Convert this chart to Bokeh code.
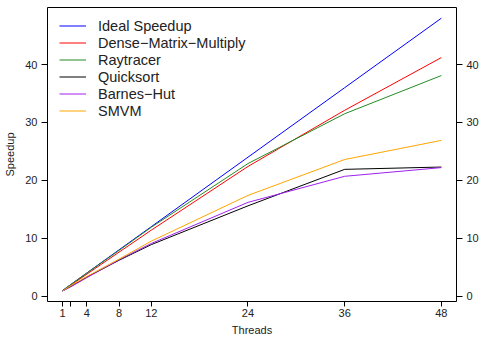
from bokeh.plotting import figure
from bokeh.models import Range1d, FixedTicker, LinearAxis, Legend, LegendItem
from bokeh.embed import file_html
from bokeh.resources import INLINE

threads = [1, 2, 4, 8, 12, 24, 36, 48]
ideal = [1, 2, 4, 8, 12, 24, 36, 48]
dense = [0.9, 1.9, 3.8, 7.6, 11.4, 22.4, 32.1, 41.2]
raytracer = [0.95, 2.0, 4.0, 7.9, 11.9, 22.9, 31.5, 38.1]
quicksort = [0.9, 1.7, 3.3, 6.2, 8.9, 15.6, 21.9, 22.3]
barnes = [0.9, 1.6, 3.2, 6.3, 9.1, 16.2, 20.7, 22.2]
smvm = [0.9, 1.8, 3.4, 6.4, 9.5, 17.4, 23.6, 26.9]

names = ["Ideal Speedup", "Dense\u2212Matrix\u2212Multiply", "Raytracer",
         "Quicksort", "Barnes\u2212Hut", "SMVM"]
series = [ideal, dense, raytracer, quicksort, barnes, smvm]
colors = ["#0000FF", "#FF0000", "#228B22", "#000000", "#A020F0", "#FFA500"]

x_ticks = [1, 2, 4, 8, 12, 24, 36, 48]
y_ticks = [0, 10, 20, 30, 40]
x_title = "Threads"
y_title = "Speedup"

FONT = "Liberation Sans"

p = figure(width=481, height=338, output_backend="svg", toolbar_location=None,
           x_range=Range1d(-0.88, 49.88), y_range=Range1d(-0.92, 49.85),
           min_border_left=47, min_border_right=23, min_border_top=7,
           min_border_bottom=37, x_axis_label=x_title, y_axis_label=y_title)
p.grid.visible = False
p.outline_line_color = "black"
p.outline_line_width = 1
p.background_fill_color = "white"
p.border_fill_color = "white"

renderers = []
for s, c in zip(series, colors):
    r = p.line(threads, s, line_color=c, line_width=1)
    renderers.append(r)

right = LinearAxis()
p.add_layout(right, "right")

for ax in [p.xaxis[0], p.yaxis[0], right]:
    ax.axis_line_color = None
    ax.minor_tick_line_color = None
    ax.major_tick_line_color = "black"
    ax.major_tick_in = 0
    ax.major_tick_out = 5
    ax.major_label_text_font = FONT
    ax.major_label_text_font_size = "11px"
    ax.major_label_text_color = "#222222"
    ax.axis_label_text_font = FONT
    ax.axis_label_text_font_size = "11px"
    ax.axis_label_text_font_style = "normal"
    ax.axis_label_text_color = "#222222"

p.xaxis[0].ticker = FixedTicker(ticks=x_ticks)
p.xaxis[0].major_label_overrides = {2: ""}
p.xaxis[0].major_label_standoff = 2
p.xaxis[0].axis_label_standoff = 4
for ax in [p.yaxis[0], right]:
    ax.ticker = FixedTicker(ticks=y_ticks)
    ax.major_label_orientation = "horizontal"
    ax.major_label_standoff = 4
    ax.major_tick_out = 6
p.yaxis[0].axis_label_standoff = 6

legend = Legend(items=[LegendItem(label=n, renderers=[r]) for n, r in zip(names, renderers)],
                location=(12, 182), padding=0, margin=0, spacing=0,
                label_height=17, glyph_height=17, glyph_width=27, label_standoff=12,
                label_text_font=FONT, label_text_font_size="14.5px",
                label_text_color="#222222",
                border_line_color=None, background_fill_alpha=0)
p.add_layout(legend)

open("out.html", "w").write(file_html(p, INLINE))
